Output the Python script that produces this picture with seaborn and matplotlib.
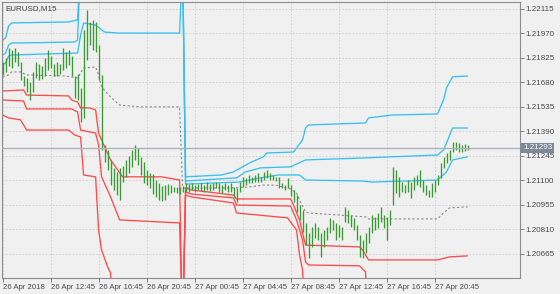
import numpy as np
import pandas as pd
import matplotlib
matplotlib.use("Agg")
import matplotlib.pyplot as plt
import seaborn as sns
from matplotlib.transforms import blended_transform_factory

# ---------------- data ----------------
symbol_label = "EURUSD,M15"
last_price = 1.21293

bar_high = [
    1.21801, 1.21825, 1.21884, 1.21872, 1.21884, 1.21860, 1.21801, 1.21718, 1.21707, 1.21682,
    1.21742, 1.21801, 1.21789, 1.21777, 1.21825, 1.21872, 1.21836, 1.21789, 1.21801, 1.21789,
    1.21884, 1.21860, 1.21872, 1.21836, 1.21718, 1.21730, 1.21647, 1.21990, 1.22109, 1.22038,
    1.22050, 1.22038, 1.21901, 1.21724, 1.21309, 1.21280, 1.21221, 1.21174, 1.21150, 1.21174,
    1.21185, 1.21221, 1.21244, 1.21280, 1.21309, 1.21292, 1.21239, 1.21209, 1.21162, 1.21144,
    1.21138, 1.21102, 1.21084, 1.21066, 1.21072, 1.21078, 1.21072, 1.21061, 1.21061, 1.21061,
    1.21066,
    1.21084, 1.21078, 1.21084, 1.21072, 1.21078, 1.21084, 1.21072, 1.21090, 1.21078,
    1.21084, 1.21090, 1.21084, 1.21072, 1.21084, 1.21072, 1.21084, 1.21061, 1.21055, 1.21090,
    1.21121, 1.21115, 1.21132, 1.21121, 1.21132, 1.21144, 1.21121, 1.21150, 1.21162, 1.21144,
    1.21132, 1.21121, 1.21121, 1.21084, 1.21072, 1.21115, 1.21072, 1.21043, 1.21013, 1.20954,
    1.20925, 1.20848, 1.20788, 1.20825, 1.20848, 1.20825, 1.20788, 1.20806, 1.20825, 1.20878,
    1.20866, 1.20848, 1.20836, 1.20825, 1.20943, 1.20925, 1.20895, 1.20878, 1.20836, 1.20776,
    1.20747, 1.20788, 1.20825, 1.20895, 1.20884, 1.20907, 1.20943, 1.20895, 1.20884, 1.20925,
    1.21180, 1.21162, 1.21121, 1.21090, 1.21072, 1.21102, 1.21090, 1.21121, 1.21132, 1.21162,
    1.21102, 1.21072, 1.21043, 1.21084, 1.21102, 1.21132, 1.21203, 1.21239, 1.21262, 1.21280,
    1.21327, 1.21327, 1.21321, 1.21309, 1.21315, 1.21309,
]
bar_low = [
    1.21724, 1.21742, 1.21777, 1.21766, 1.21801, 1.21777, 1.21694, 1.21658, 1.21623, 1.21576,
    1.21623, 1.21707, 1.21694, 1.21701, 1.21718, 1.21754, 1.21766, 1.21718, 1.21718, 1.21730,
    1.21754, 1.21766, 1.21783, 1.21718, 1.21588, 1.21576, 1.21446, 1.21470, 1.21813, 1.21901,
    1.21872, 1.21860, 1.21694, 1.21280, 1.21209, 1.21162, 1.21072, 1.21043, 1.21013, 1.20984,
    1.21090, 1.21121, 1.21144, 1.21180, 1.21221, 1.21191, 1.21132, 1.21084, 1.21072, 1.21055,
    1.21019, 1.21002, 1.20984, 1.20978, 1.20984, 1.21013, 1.21025, 1.21031, 1.21025, 1.21019,
    1.21031,
    1.21031, 1.21031, 1.21043, 1.21031, 1.21043, 1.21037, 1.21031, 1.21043, 1.21037,
    1.21043, 1.21055, 1.21031, 1.21025, 1.21043, 1.21031, 1.21031, 1.21002, 1.20972, 1.21031,
    1.21061, 1.21072, 1.21084, 1.21084, 1.21090, 1.21090, 1.21090, 1.21102, 1.21115, 1.21102,
    1.21102, 1.21096, 1.21055, 1.21055, 1.21043, 1.21055, 1.21007, 1.20972, 1.20913, 1.20866,
    1.20794, 1.20717, 1.20641, 1.20706, 1.20759, 1.20747, 1.20647, 1.20706, 1.20747, 1.20788,
    1.20806, 1.20747, 1.20765, 1.20747, 1.20854, 1.20848, 1.20825, 1.20806, 1.20747, 1.20647,
    1.20641, 1.20670, 1.20729, 1.20788, 1.20806, 1.20819, 1.20854, 1.20819, 1.20747, 1.20836,
    1.20954, 1.21025, 1.21002, 1.21031, 1.21025, 1.21031, 1.20996, 1.21043, 1.21072, 1.21061,
    1.21031, 1.21013, 1.21002, 1.21002, 1.21031, 1.21072, 1.21115, 1.21174, 1.21203, 1.21221,
    1.21268, 1.21280, 1.21268, 1.21268, 1.21274, 1.21280,
]

# indicator bands (vertices: bar number, price)
up1_bar = [0, 1, 2, 3, 22, 25, 26, 60, 61, 73, 77, 80, 83, 87, 88, 97, 100, 101, 102, 121, 122, 130, 145, 147, 148, 150, 155]
up1_val = [1.21931, 1.21943, 1.22014, 1.22032, 1.22038, 1.22050, 1.2240, 1.2240,
           1.21121, 1.21132, 1.21150, 1.21180, 1.21209, 1.21239, 1.21262, 1.21268, 1.21339, 1.21410,
           1.21428, 1.21440, 1.21470, 1.21487, 1.21493, 1.21576, 1.21647, 1.21713, 1.21718]
up2_bar = [0, 1, 2, 3, 24, 25, 26, 60, 61, 78, 81, 86, 96, 101, 121, 129, 145, 147, 148, 150, 155]
up2_val = [1.21842, 1.21854, 1.21901, 1.21913, 1.21919, 1.21931, 1.2240, 1.2240,
           1.21096, 1.21115, 1.21150, 1.21174, 1.21180, 1.21221, 1.21233, 1.21239, 1.21250, 1.21280,
           1.21321, 1.21410, 1.21410]
up3_bar = [0, 1, 2, 3, 25, 26, 27, 31, 34, 39, 59, 60, 61, 79, 86, 92, 99, 101, 120, 123, 145, 148, 150, 155]
up3_val = [1.21783, 1.21795, 1.21836, 1.21842, 1.21854, 1.21960, 1.22032, 1.22020, 1.21978, 1.21972,
           1.21972, 1.2240, 1.21078, 1.21090, 1.21115, 1.21132, 1.21132, 1.21102, 1.21096, 1.21090,
           1.21102, 1.21150, 1.21221, 1.21239]
lo1_bar = [0, 7, 8, 22, 23, 25, 26, 29, 31, 32, 33, 36, 40, 53, 59, 60,
           61, 63, 77, 78, 96, 97, 99, 100, 101, 119, 120, 122, 145, 149, 155]
lo1_val = [1.21629, 1.21635, 1.21605, 1.21600, 1.21576, 1.21564, 1.21529, 1.21529, 1.21517, 1.21380,
           1.21339, 1.21221, 1.21121, 1.21121, 1.21102, 1.2020,
           1.21055, 1.21043, 1.21013, 1.20990, 1.20990, 1.20954, 1.20866, 1.20788, 1.20717, 1.20706,
           1.20688, 1.20629, 1.20629, 1.20647, 1.20653]
lo2_bar = [0, 7, 8, 23, 25, 26, 31, 32, 33, 36, 39, 59, 60,
           61, 63, 77, 78, 96, 98, 100, 101, 102, 119, 121, 122, 155]
lo2_val = [1.21576, 1.21570, 1.21523, 1.21523, 1.21505, 1.21398, 1.21380, 1.21309, 1.21121, 1.21002,
           1.20866, 1.20848, 1.2020,
           1.21031, 1.21019, 1.20996, 1.20954, 1.20948, 1.20866, 1.20747, 1.20617, 1.20599, 1.20594,
           1.20558, 1.2020, 1.2020]
lo3_bar = [0, 2, 6, 8, 22, 24, 26, 27, 31, 32, 33, 35, 36, 37, 60,
           61, 63, 77, 78, 95, 98, 99, 100, 101, 155]
lo3_val = [1.21487, 1.21470, 1.21458, 1.21398, 1.21398, 1.21369, 1.21357, 1.21132, 1.21121, 1.20806,
           1.20688, 1.20588, 1.20552, 1.2020, 1.2020,
           1.21013, 1.21002, 1.20966, 1.20907, 1.20878, 1.20806, 1.20658, 1.20570, 1.2020, 1.2020]
mid_bar = [0, 2, 3, 6, 8, 21, 25, 27, 31, 32, 33, 36, 39, 46, 59, 60, 77, 82, 87, 91, 96, 98, 99,
           101, 102, 121, 122, 145, 147, 149, 155]
mid_val = [1.21712, 1.21724, 1.21742, 1.21742, 1.21724, 1.21718, 1.21706, 1.21765, 1.21771, 1.21724,
           1.21653, 1.21594, 1.21546, 1.21535, 1.21535, 1.21055, 1.21055, 1.21061, 1.21072, 1.21072,
           1.21049, 1.21025, 1.20984, 1.20913, 1.20907, 1.20884, 1.20872, 1.20872, 1.20907, 1.20937,
           1.20943]

y_ticks = [1.22115, 1.21970, 1.21825, 1.21680, 1.21535, 1.21390, 1.21245, 1.21100, 1.20955, 1.20810, 1.20665]
x_tick_times = ["2018-04-26 08:45", "2018-04-26 12:45", "2018-04-26 16:45", "2018-04-26 20:45",
                "2018-04-27 00:45", "2018-04-27 04:45", "2018-04-27 08:45", "2018-04-27 12:45",
                "2018-04-27 16:45", "2018-04-27 20:45"]
x_tick_labels = ["26 Apr 2018", "26 Apr 12:45", "26 Apr 16:45", "26 Apr 20:45", "27 Apr 00:45",
                 "27 Apr 04:45", "27 Apr 08:45", "27 Apr 12:45", "27 Apr 16:45", "27 Apr 20:45"]

# ---------------- drawing ----------------
BG = "#F0F0F0"
sns.set_style("white", {"axes.facecolor": BG, "figure.facecolor": BG})
plt.rcParams["font.family"] = ["Liberation Sans", "DejaVu Sans"]

times = pd.date_range("2018-04-26 08:45", periods=len(bar_high), freq="15min")
bars = pd.DataFrame({"t": times, "high": bar_high, "low": bar_low})
bars["n"] = np.arange(len(bars))

fig = plt.figure(figsize=(5.6, 2.94), dpi=100, facecolor=BG)
ax = fig.add_axes([2 / 560, 16 / 294, 518 / 560, 276 / 294])
ax.set_facecolor(BG)

ax.set_xlim(-0.2, 172.5)
ax.set_ylim(1.20522, 1.22156)

ax.grid(True, color="#CDCDCD", ls=(0, (2, 2)), lw=0.6)
ax.set_axisbelow(True)

blue = "#38C0F2"
red = "#FF4A4A"
for b, v in [(up1_bar, up1_val), (up2_bar, up2_val), (up3_bar, up3_val)]:
    sns.lineplot(x=b, y=v, ax=ax, color=blue, lw=0.95, sort=False, estimator=None)
for b, v in [(lo1_bar, lo1_val), (lo2_bar, lo2_val), (lo3_bar, lo3_val)]:
    sns.lineplot(x=b, y=v, ax=ax, color=red, lw=0.95, sort=False, estimator=None)
sns.lineplot(x=mid_bar, y=mid_val, ax=ax, color="#8A8A8A", lw=0.8, sort=False,
             estimator=None, linestyle=(0, (2, 2)))

ax.vlines(bars["n"], bars["low"], bars["high"], color="#3A9B35", lw=0.95, zorder=3)

ax.axhline(last_price, color="#A9B3BF", lw=1.0, zorder=4)

# ticks
ax.yaxis.tick_right()
ax.set_yticks(y_ticks)
ax.set_yticklabels([f"{v:.5f}" for v in y_ticks])
ax.tick_params(axis="y", right=True, left=False, labelright=True, labelleft=False,
               length=3, width=0.6, color="#707070", labelsize=5.8, labelcolor="#4A4A4A",
               pad=1.2, direction="out")
tpos = [int(np.where(times == pd.Timestamp(t))[0][0]) for t in x_tick_times]
ax.set_xticks(tpos)
ax.set_xticklabels(x_tick_labels)
ax.tick_params(axis="x", bottom=True, length=3, width=0.6, color="#707070",
               labelsize=5.6, labelcolor="#4A4A4A", pad=1.2, direction="out")
for lbl in ax.get_xticklabels():
    lbl.set_ha("left")
ax.set_xlabel("")
ax.set_ylabel("")

for s in ax.spines.values():
    s.set_visible(True)
    s.set_color("#8C8C8C")
    s.set_linewidth(0.8)

ax.text(0.006, 0.988, symbol_label, transform=ax.transAxes, ha="left", va="top",
        fontsize=5.8, color="#404040")

trans = blended_transform_factory(ax.transAxes, ax.transData)
ax.text(1.006, last_price, f"{last_price:.5f}", transform=trans, ha="left", va="center",
        fontsize=5.8, color="white", zorder=10, clip_on=False,
        bbox=dict(boxstyle="square,pad=0.2", fc="#7C8A98", ec="none"))

fig.savefig("out.png", dpi=100, facecolor=BG)
